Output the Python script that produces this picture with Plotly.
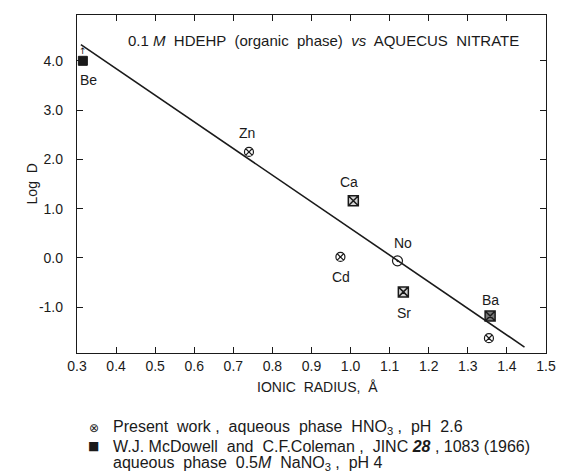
import plotly.graph_objects as go

# ---- data ----
present_elems = ["Zn", "Cd", "Ba"]
present_x = [0.74, 0.974, 1.354]
present_y = [2.15, 0.02, -1.63]

no_elem = ["No"]
no_x = [1.12]
no_y = [-0.06]

mcd_elems = ["Ca", "Sr", "Ba"]
mcd_x = [1.007, 1.135, 1.357]
mcd_y = [1.16, -0.69, -1.18]

be_elem = ["Be"]
be_x = [0.315]
be_y = [4.0]

fit_x = [0.31, 1.445]
fit_y = [4.33, -1.81]

x_ticks = [0.3, 0.4, 0.5, 0.6, 0.7, 0.8, 0.9, 1.0, 1.1, 1.2, 1.3, 1.4, 1.5]
x_ticklabels = ["0.3", "0.4", "0.5", "0.6", "0.7", "0.8", "0.9", "1.0", "1.1", "1.2", "1.3", "1.4", "1.5"]
y_ticks = [4.0, 3.0, 2.0, 1.0, 0.0, -1.0]
y_ticklabels = ["4.0", "3.0", "2.0", "1.0", "0.0", "-1.0"]

FONT = "Liberation Sans"
INK = "#1a1a1a"

fig = go.Figure()

fig.add_trace(go.Scatter(x=fit_x, y=fit_y, mode="lines",
                         line=dict(color=INK, width=1.6), showlegend=False, hoverinfo="skip"))

fig.add_trace(go.Scatter(x=present_x, y=present_y, mode="markers",
                         marker=dict(symbol="circle-x-open", size=9, color=INK, line=dict(width=1.2)),
                         showlegend=False))
fig.add_trace(go.Scatter(x=no_x, y=no_y, mode="markers",
                         marker=dict(symbol="circle-open-dot", size=10, color=INK, line=dict(width=1.2)),
                         showlegend=False))
fig.add_trace(go.Scatter(x=mcd_x[:2], y=mcd_y[:2], mode="markers",
                         marker=dict(symbol="square-x", size=10, color="#d5d5d5", line=dict(width=1.5, color=INK)),
                         showlegend=False))
fig.add_trace(go.Scatter(x=mcd_x[2:], y=mcd_y[2:], mode="markers",
                         marker=dict(symbol="square-x", size=10, color="#777777", line=dict(width=1.5, color=INK)),
                         showlegend=False))
fig.add_trace(go.Scatter(x=be_x, y=be_y, mode="markers",
                         marker=dict(symbol="square", size=9, color=INK, line=dict(width=1, color=INK)),
                         showlegend=False))
# lower-limit arrow above Be
fig.add_annotation(x=be_x[0], y=be_y[0], text="↑", showarrow=False, yshift=10,
                   font=dict(family="DejaVu Sans", size=9, color=INK))

# element labels (offsets in pixels from the marker)
label_offsets = {
    ("Zn", "p"): (-2, 19), ("Cd", "p"): (1, -20),
    ("No", "n"): (6, 18),
    ("Ca", "m"): (-4, 19), ("Sr", "m"): (1, -21), ("Ba", "m"): (0, 16),
    ("Be", "b"): (6, -19),
}
def label(name, key, x, y):
    dx, dy = label_offsets[(name, key)]
    fig.add_annotation(x=x, y=y, text=name, showarrow=False, xshift=dx, yshift=dy,
                       font=dict(family=FONT, size=14, color=INK))

for n, x, y in zip(present_elems[:2], present_x[:2], present_y[:2]):
    label(n, "p", x, y)
for n, x, y in zip(no_elem, no_x, no_y):
    label(n, "n", x, y)
for n, x, y in zip(mcd_elems, mcd_x, mcd_y):
    label(n, "m", x, y)
for n, x, y in zip(be_elem, be_x, be_y):
    label(n, "b", x, y)

axis_common = dict(showline=True, linecolor=INK, linewidth=1.3, mirror="ticks",
                   ticks="inside", ticklen=6, tickwidth=1, tickcolor=INK,
                   showgrid=False, zeroline=False,
                   tickfont=dict(family=FONT, size=14, color=INK))

fig.update_xaxes(range=[0.3, 1.5], tickvals=x_ticks, ticktext=x_ticklabels, **axis_common)
fig.update_yaxes(range=[-1.93, 4.93], tickvals=y_ticks, ticktext=y_ticklabels,
                 ticklabelstandoff=10, **axis_common)

# chart text
fig.add_annotation(xref="paper", yref="paper", x=0.525, y=0.925, xanchor="center", yanchor="middle",
                   text="0.1 <i>M</i>  HDEHP  (organic  phase)  <i>vs</i>  AQUECUS  NITRATE",
                   showarrow=False, font=dict(family=FONT, size=15, color=INK))
fig.add_annotation(xref="paper", yref="paper", x=-0.095, y=0.5, xanchor="center", yanchor="middle",
                   text="Log  D", textangle=-90, showarrow=False,
                   font=dict(family=FONT, size=14, color=INK))
fig.add_annotation(xref="paper", yref="paper", x=0.513, y=-0.1, xanchor="center", yanchor="middle",
                   text="IONIC  RADIUS,  Å", showarrow=False,
                   font=dict(family=FONT, size=14, color=INK))

# key below the plot
key_lines = [
    ("⊗", "Present  work ,  aqueous  phase  HNO<sub>3</sub> ,  pH  2.6"),
    ("■", "W.J. McDowell  and  C.F.Coleman ,  JINC <b><i>28</i></b> , 1083 (1966)"),
    ("", "aqueous  phase  0.5<i>M</i>  NaNO<sub>3</sub> ,  pH 4"),
]
key_y_px = [428, 446, 463]
W, H = 568, 476
ML, MR, MT, MB = 77, 13, 15, 123
pw, ph = W - ML - MR, H - MT - MB
for (sym, txt), ypx in zip(key_lines, key_y_px):
    yp = (H - MB - ypx) / ph
    if sym:
        fig.add_annotation(xref="paper", yref="paper", x=(94 - ML) / pw, y=yp, xanchor="center",
                           yanchor="middle", text=sym, showarrow=False,
                           font=dict(family="DejaVu Sans", size=12, color=INK))
    fig.add_annotation(xref="paper", yref="paper", x=(112 - ML) / pw, y=yp, xanchor="left",
                       yanchor="middle", text=txt, showarrow=False,
                       font=dict(family=FONT, size=16, color=INK))

fig.update_layout(width=W, height=H, margin=dict(l=ML, r=MR, t=MT, b=MB),
                  paper_bgcolor="white", plot_bgcolor="white", showlegend=False)

fig.write_html("out.html")
